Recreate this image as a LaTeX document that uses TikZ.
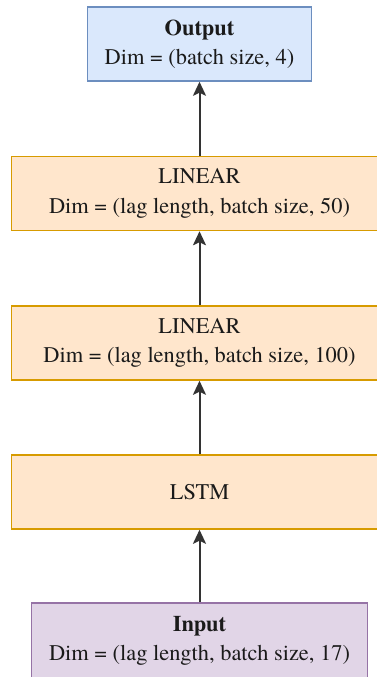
\documentclass[tikz,border=0pt]{standalone}
\usepackage{fontspec}
\setmainfont{texgyretermes}[Extension=.otf, UprightFont=*-regular, BoldFont=*-bold]
\usepackage{tikz}
\usetikzlibrary{positioning,arrows.meta}
\definecolor{NetBlueFill}{HTML}{DAE8FC}
\definecolor{NetBlueLine}{HTML}{6C8EBF}
\definecolor{NetOrangeFill}{HTML}{FFE6CC}
\definecolor{NetOrangeLine}{HTML}{D79B00}
\definecolor{NetPurpleFill}{HTML}{E1D5E7}
\definecolor{NetPurpleLine}{HTML}{9673A6}
\definecolor{NetText}{HTML}{1A1A1A}
\definecolor{NetArrow}{HTML}{333333}

\tikzset{
  layerbox/.style={draw, line width=1.5pt, rectangle, align=center,
    minimum height=74pt, inner sep=0pt, text=NetText,
    font=\fontsize{22.4}{29.5}\selectfont},
  outbox/.style={layerbox, fill=NetBlueFill, draw=NetBlueLine, minimum width=224pt},
  hidbox/.style={layerbox, fill=NetOrangeFill, draw=NetOrangeLine, minimum width=376pt},
  inbox/.style={layerbox, fill=NetPurpleFill, draw=NetPurpleLine, minimum width=336pt, minimum height=76pt},
  flow/.style={NetArrow, line width=2pt, -{Stealth[length=14pt,width=13pt,inset=3pt]}}
}

\begin{document}
\begin{tikzpicture}[x=1pt, y=-1pt]
  %% Page frame
  \useasboundingbox (0,0) rectangle (376,677);

  %% Layers, top to bottom
  \node[outbox] (output) at (199.5,44) {\textbf{Output}\\Dim = (batch size, 4)};
  \node[hidbox] (linB) at (199.5,193.5) {LINEAR\\Dim = (lag length, batch size, 50)};
  \node[hidbox] (linA) at (199.5,343) {LINEAR\\Dim = (lag length, batch size, 100)};
  \node[hidbox] (lstm) at (199.5,492) {LSTM};
  \node[inbox] (input) at (199.5,641) {\textbf{Input}\\Dim = (lag length, batch size, 17)};

  %% Data flow
  \draw[flow] (input.north) -- (lstm.south);
  \draw[flow] (lstm.north) -- (linA.south);
  \draw[flow] (linA.north) -- (linB.south);
  \draw[flow] (linB.north) -- (output.south);
\end{tikzpicture}
\end{document}
